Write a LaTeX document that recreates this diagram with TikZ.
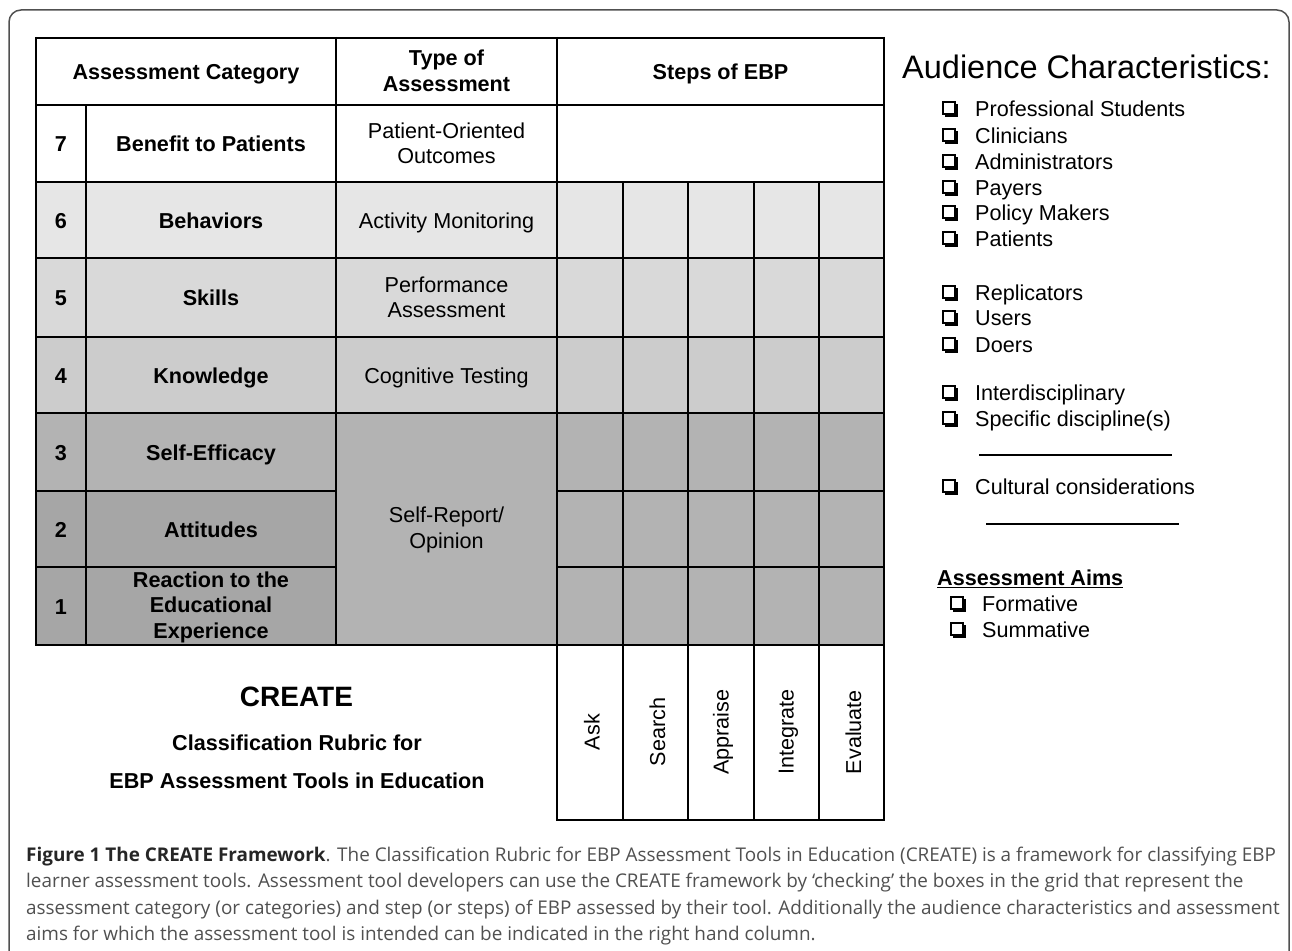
\documentclass[tikz,border=0pt]{standalone}
\usepackage{fontspec}
\setmainfont{Liberation Sans}
\newfontfamily\capfont{Open Sans}
\definecolor{gsix}{HTML}{E6E6E6}
\definecolor{gfive}{HTML}{D9D9D9}
\definecolor{gfour}{HTML}{CCCCCC}
\definecolor{gthree}{HTML}{B3B3B3}
\definecolor{gtwo}{HTML}{A6A6A6}
\definecolor{framec}{HTML}{505050}
\definecolor{capbody}{HTML}{505050}
\definecolor{capbold}{HTML}{262626}
\begin{document}
\begin{tikzpicture}[x=1pt,y=-1pt,
  tbl/.style={line width=2pt, black},
  cell/.style={font=\fontsize{21.6}{25.5}\selectfont, align=center, inner sep=0pt},
  bcell/.style={font=\fontsize{21.6}{25.5}\selectfont\bfseries, align=center, inner sep=0pt},
  one/.style={anchor=base},
  item/.style={anchor=base west, inner sep=0pt, font=\fontsize{21.6}{26}\selectfont},
  capline/.style={anchor=base west, inner sep=0pt, text=capbody, font=\capfont\fontsize{18.9}{26}\selectfont},
  chk/.pic={\draw[line width=1.1pt] (-7,-7) rectangle (5,5);
            \fill (5,-5) rectangle (8,8);
            \fill (-5,5) rectangle (8,8);}
]
\useasboundingbox (0,0) rectangle (1292,950);
\begin{scope}
  \clip (0,0) rectangle (1292,950);
  \draw[framec, line width=1.5pt, rounded corners=12pt] (9,10) rectangle (1289,1000);
\end{scope}

% fills
\fill[gsix]   (36,182) rectangle (884,258);
\fill[gfive]  (36,258) rectangle (884,337);
\fill[gfour]  (36,337) rectangle (884,413);
\fill[gthree] (36,413) rectangle (884,645);
\fill[gtwo]   (36,491) rectangle (336,645);

% horizontal lines
\foreach \yy in {38,105,182,258,337,413,645}{\draw[tbl] (35,\yy) -- (885,\yy);}
\foreach \yy in {491,567}{\draw[tbl] (35,\yy) -- (336,\yy); \draw[tbl] (557,\yy) -- (885,\yy);}
\draw[tbl] (556,820) -- (885,820);
% vertical lines
\draw[tbl] (36,37) -- (36,646);
\draw[tbl] (86,105) -- (86,646);
\draw[tbl] (336,37) -- (336,646);
\draw[tbl] (557,37) -- (557,821);
\foreach \xx in {623,688,754,819}{\draw[tbl] (\xx,182) -- (\xx,821);}
\draw[tbl] (884,37) -- (884,821);

% header
\node[bcell, one] (hcat) at (186,79) {Assessment Category};
\node[bcell] (htype) at (446.5,71) {Type of\\Assessment};
\node[bcell, one] (hsteps) at (720.5,79) {Steps of EBP};

% rows
\node[bcell, one] (n7) at (61,151.5) {7};
\node[bcell, one] (c7) at (211,151.5) {Benefit to Patients};
\node[cell]  (t7) at (446.5,143.5) {Patient-Oriented\\Outcomes};
\node[bcell, one] (n6) at (61,228) {6};
\node[bcell, one] (c6) at (211,228) {Behaviors};
\node[cell, one]  (t6) at (446.5,228) {Activity Monitoring};
\node[bcell, one] (n5) at (61,305.5) {5};
\node[bcell, one] (c5) at (211,305.5) {Skills};
\node[cell]  (t5) at (446.5,297.5) {Performance\\Assessment};
\node[bcell, one] (n4) at (61,383) {4};
\node[bcell, one] (c4) at (211,383) {Knowledge};
\node[cell, one]  (t4) at (446.5,383) {Cognitive Testing};
\node[bcell, one] (n3) at (61,460) {3};
\node[bcell, one] (c3) at (211,460) {Self-Efficacy};
\node[bcell, one] (n2) at (61,537) {2};
\node[bcell, one] (c2) at (211,537) {Attitudes};
\node[bcell, one] (n1) at (61,614) {1};
\node[bcell] (c1) at (211,607) {Reaction to the\\Educational\\Experience};
\node[cell]  (t13) at (446.5,530) {Self-Report/\\Opinion};

% step labels
\node[cell, rotate=90] (sask) at (592,732) {Ask};
\node[cell, rotate=90] (ssearch) at (657.5,732) {Search};
\node[cell, rotate=90] (sappr) at (723,732) {Appraise};
\node[cell, rotate=90] (sint) at (788.5,732) {Integrate};
\node[cell, rotate=90] (seval) at (853.5,732) {Evaluate};

% title block
\node[inner sep=0pt, anchor=base, font=\fontsize{28}{30}\selectfont\bfseries] (create) at (296.5,706) {CREATE};
\node[bcell, one] (crub) at (297,750) {Classification Rubric for};
\node[bcell, one] (cebp) at (297,788) {EBP Assessment Tools in Education};

% audience
\node[anchor=base west, inner sep=0pt, font=\fontsize{32.5}{34}\selectfont] (aud) at (902,78) {Audience Characteristics:};
\foreach \yy/\tt/\nm in {109/Professional Students/a1, 136/Clinicians/a2, 162/Administrators/a3, 188/Payers/a4, 213/Policy Makers/a5, 239/Patients/a6, 293/Replicators/a7, 318/Users/a8, 345/Doers/a9, 393/Interdisciplinary/a10, 419/Specific discipline(s)/a11, 487/Cultural considerations/a12}{
  \pic at (950,\yy) {chk};
  \node[item] (\nm) at (975,\yy+7.8) {\tt};
}
\draw[line width=1.3pt] (979,455) -- (1172,455);
\draw[line width=1.3pt] (986,524) -- (1179,524);
\node[item, font=\fontsize{21.6}{26}\selectfont\bfseries] (aims) at (937,585.8) {\underline{Assessment Aims}};
\foreach \yy/\tt/\nm in {604/Formative/f1, 630/Summative/f2}{
  \pic at (958,\yy) {chk};
  \node[item] (\nm) at (982,\yy+7.8) {\tt};
}

% caption
\node[capline] (cap1) at (26,861) {{\color{capbold}\bfseries Figure 1 The CREATE Framework}. The Classification Rubric for EBP Assessment Tools in Education (CREATE) is a framework for classifying EBP};
\node[capline] (cap2) at (26,887.5) {learner assessment tools. Assessment tool developers can use the CREATE framework by ‘checking’ the boxes in the grid that represent the};
\node[capline] (cap3) at (26,914) {assessment category (or categories) and step (or steps) of EBP assessed by their tool. Additionally the audience characteristics and assessment};
\node[capline] (cap4) at (26,940.5) {aims for which the assessment tool is intended can be indicated in the right hand column.};
\end{tikzpicture}
\end{document}
